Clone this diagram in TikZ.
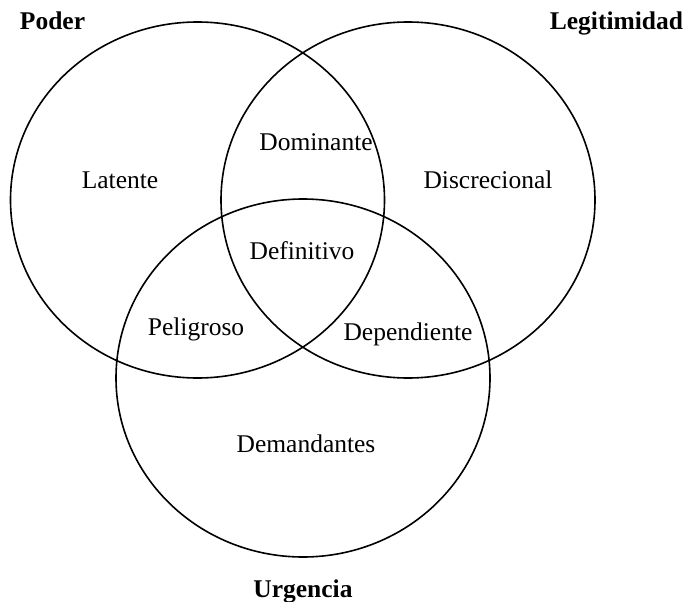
\documentclass[tikz,border=0pt]{standalone}
\usepackage{fontspec}
\setmainfont{Liberation Serif}
\begin{document}
\begin{tikzpicture}[x=1pt,y=-1pt,
  setline/.style={line width=1.6pt, black},
  region/.style={anchor=base, inner sep=0pt, font=\fontsize{25.5}{30}\selectfont},
  setname/.style={anchor=base, inner sep=0pt, font=\fontsize{25.5}{30}\selectfont\bfseries}]
  \useasboundingbox (0,0) rectangle (689,602);

  % the three sets
  \coordinate (cP) at (197.5,200);
  \coordinate (cL) at (408,200);
  \coordinate (cU) at (303,378);
  \draw[setline] (cP) ellipse [x radius=187, y radius=178];
  \draw[setline] (cL) ellipse [x radius=187, y radius=178];
  \draw[setline] (cU) ellipse [x radius=187, y radius=179];

  % set names
  \node[setname] (poder) at (52.5,30) {Poder};
  \node[setname] (legit) at (616.5,30) {Legitimidad};
  \node[setname] (urg) at (303,597) {Urgencia};

  % regions
  \node[region] (latente) at (120,188) {Latente};
  \node[region] (dominante) at (316,150) {Dominante};
  \node[region] (discrecional) at (488,188) {Discrecional};
  \node[region] (definitivo) at (302,259) {Definitivo};
  \node[region] (peligroso) at (196,335) {Peligroso};
  \node[region] (dependiente) at (408,340) {Dependiente};
  \node[region] (demandantes) at (306,452) {Demandantes};
\end{tikzpicture}
\end{document}
